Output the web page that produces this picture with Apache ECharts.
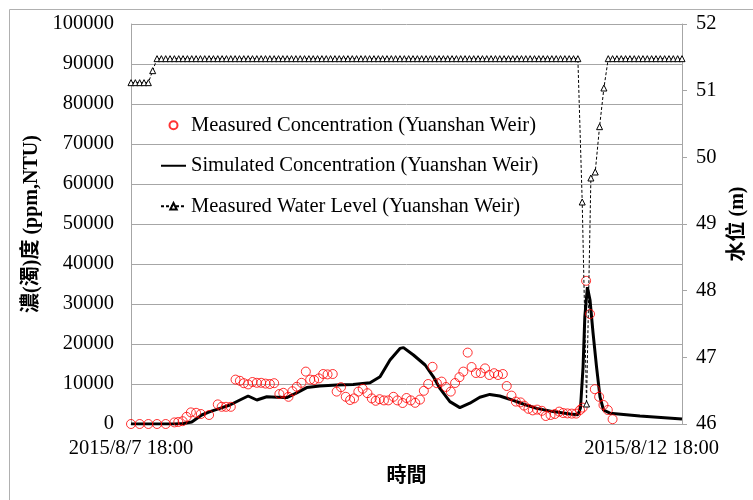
<!DOCTYPE html>
<html>
<head>
    <meta charset="utf-8" />
    <script src="https://cdn.jsdelivr.net/npm/echarts@6/dist/echarts.min.js"></script>
</head>
<body style="margin:0;background:#fff;">
<div id="main" style="width:753px;height:500px;"></div>
<script type="text/javascript">
    // hours counted from 2015/8/7 18:00
    var startLabel = '2015/8/7 18:00';
    var endLabel = '2015/8/12 18:00';
    var endLabelHour = 120;
    var lastHour = 127;

    // measured concentration (ppm,NTU)
    var measuredHours = [0, 2, 4, 6, 8, 10, 10.9, 11.9, 12.8, 13.8, 15, 16.1, 18, 20, 20.9, 21.9, 23,
        24.1, 25.1, 26, 27, 28, 29, 30, 31, 32, 33, 34.2, 35.1, 36.3, 37.2, 38.2, 39.3, 40.3, 41.3,
        42.2, 43.3, 44.3, 45.3, 46.5, 47.4, 48.4, 49.5, 50.5, 51.4, 52.4, 53.4, 54.5, 55.5, 56.4,
        57.3, 58.3, 59.3, 60.5, 61.4, 62.6, 63.5, 64.5, 65.5, 66.6, 67.5, 68.5, 69.5, 70.5, 71.6,
        72.6, 73.7, 74.7, 75.7, 76.6, 77.6, 78.5, 79.5, 80.6, 81.6, 82.6, 83.7, 84.6, 85.7, 86.6,
        87.7, 88.7, 89.8, 90.6, 91.6, 92.6, 93.6, 94.7, 95.6, 96.7, 97.7, 98.7, 99.6, 100.6, 101.6,
        102.6, 103.5, 104.1, 104.9, 105.8, 106.9, 107.9, 108.9, 109.9, 111];
    var measuredConc = [0, 0, 0, 0, 0, 400, 500, 700, 1800, 2900, 2800, 2500, 2250, 4900, 4300, 4300, 4300,
        11100, 10800, 10200, 9900, 10500, 10300, 10300, 10100, 10000, 10200, 7500, 7800, 6800, 8200, 9300, 10300, 13100, 11100,
        11000, 11400, 12500, 12400, 12500, 8100, 9200, 6800, 6000, 6400, 8100, 8800, 7700, 6400, 5800,
        6200, 5900, 5900, 6800, 5900, 5250, 6500, 5900, 5300, 6100, 8300, 10000, 14300, 10200, 10600,
        9250, 8100, 10250, 11700, 13100, 17850, 14250, 12750, 12750, 13900, 12250, 12700, 12250, 12500, 9500,
        7100, 5600, 5400, 4600, 3800, 3400, 3600, 3300, 2000, 2250, 2500, 3100, 2750, 2650, 2600,
        2600, 3500, 4100, 35800, 27500, 8700, 6800, 4750, 3500, 1200];

    // simulated concentration (ppm,NTU)
    var simHours = [0, 10.1, 12, 14, 16.3, 18.2, 20.5, 22.8, 25.1, 27, 29, 31.3, 33.6, 35.9, 38.2, 40.5,
        43.5, 47.4, 51.2, 55.1, 57.4, 59.7, 62, 62.8, 65.1, 67.8, 69.7, 71.2, 73.5, 75.8, 78.1, 80.4,
        82.7, 85, 87.3, 90.4, 93.5, 97.3, 101.2, 103, 103.6, 104.2, 104.6, 105.2, 105.8, 106.5, 107.3,
        108.1, 108.9, 110.4, 117.3, 127];
    var simConc = [0, 0, 100, 500, 2250, 3100, 3900, 4750, 6000, 7000, 6000, 6800, 6700, 6600, 7800, 9100,
        9500, 9750, 9900, 10300, 11800, 16000, 18900, 19100, 17250, 14750, 11800, 8900, 5600, 4100, 5200, 6700,
        7400, 7000, 6200, 5000, 3900, 3100, 2500, 2300, 4000, 14300, 26800, 34200, 31000, 22700, 14300,
        6800, 3500, 2700, 2000, 1250];

    // measured water level (m), one reading per hour from hour 0
    var levelValues = [
        51.12, 51.12, 51.12, 51.12, 51.12, 51.30,
        51.48, 51.48, 51.48, 51.48, 51.48, 51.48, 51.48, 51.48, 51.48, 51.48, 51.48, 51.48, 51.48, 51.48,
        51.48, 51.48, 51.48, 51.48, 51.48, 51.48, 51.48, 51.48, 51.48, 51.48, 51.48, 51.48, 51.48, 51.48,
        51.48, 51.48, 51.48, 51.48, 51.48, 51.48, 51.48, 51.48, 51.48, 51.48, 51.48, 51.48, 51.48, 51.48,
        51.48, 51.48, 51.48, 51.48, 51.48, 51.48, 51.48, 51.48, 51.48, 51.48, 51.48, 51.48, 51.48, 51.48,
        51.48, 51.48, 51.48, 51.48, 51.48, 51.48, 51.48, 51.48, 51.48, 51.48, 51.48, 51.48, 51.48, 51.48,
        51.48, 51.48, 51.48, 51.48, 51.48, 51.48, 51.48, 51.48, 51.48, 51.48, 51.48, 51.48, 51.48, 51.48,
        51.48, 51.48, 51.48, 51.48, 51.48, 51.48, 51.48, 51.48, 51.48, 51.48, 51.48, 51.48, 51.48, 51.48,
        49.33, 46.30, 49.69, 49.78, 50.46, 51.04,
        51.48, 51.48, 51.48, 51.48, 51.48, 51.48, 51.48, 51.48, 51.48, 51.48, 51.48, 51.48, 51.48, 51.48,
        51.48, 51.48, 51.48, 51.48];

    var serif = 'Liberation Serif, Noto Sans CJK TC, serif';
    var gridColor = '#a6a6a6';

    function pairs(xs, ys) {
        return xs.map(function (x, i) { return [x, ys[i]]; });
    }

    var myChart = echarts.init(document.getElementById('main'));
    var option = {
        animation: false,
        backgroundColor: '#fff',
        textStyle: { fontFamily: serif, color: '#000' },
        graphic: [{
            type: 'rect',
            shape: { x: 9.5, y: 9.5, width: 800, height: 600 },
            style: { fill: 'none', stroke: '#b0b0b0', lineWidth: 1 },
            silent: true
        }],
        grid: { left: 131, right: 71, top: 24, bottom: 76, outerBoundsMode: 'none' },
        legend: {
            orient: 'vertical',
            left: 160,
            top: 115,
            padding: 0,
            itemWidth: 25,
            itemHeight: 8,
            itemGap: 20,
            textStyle: { fontFamily: serif, fontSize: 20.5, color: '#000' },
            data: [
                'Measured Concentration (Yuanshan Weir)',
                { name: 'Simulated Concentration (Yuanshan Weir)', itemStyle: { opacity: 0 } },
                'Measured Water Level (Yuanshan Weir)'
            ]
        },
        xAxis: {
            type: 'value',
            min: 0,
            max: lastHour,
            interval: endLabelHour,
            name: '時間',
            nameLocation: 'middle',
            nameGap: 40,
            nameTextStyle: { fontFamily: 'Noto Sans CJK TC', fontWeight: 'bold', fontSize: 20, color: '#000' },
            axisLine: { lineStyle: { color: gridColor } },
            axisTick: { show: false },
            splitLine: { show: false },
            axisLabel: {
                margin: 14,
                fontFamily: serif,
                fontSize: 20.5,
                color: '#000',
                formatter: function (v) {
                    if (v === 0) return startLabel;
                    if (v === endLabelHour) return endLabel;
                    return '';
                }
            }
        },
        yAxis: [{
            type: 'value',
            min: 0,
            max: 100000,
            interval: 10000,
            name: '濃(濁)度 (ppm,NTU)',
            nameLocation: 'middle',
            nameGap: 84,
            nameTextStyle: { fontFamily: serif, fontWeight: 'bold', fontSize: 20, color: '#000' },
            axisLine: { show: true, lineStyle: { color: gridColor } },
            axisTick: { show: false },
            splitLine: { lineStyle: { color: gridColor } },
            axisLabel: {
                margin: 17, fontFamily: serif, fontSize: 20.5, color: '#000',
                formatter: function (v) { return String(v); }
            }
        }, {
            type: 'value',
            position: 'right',
            min: 46,
            max: 52,
            interval: 1,
            name: '水位 (m)',
            nameLocation: 'middle',
            nameRotate: 90,
            nameGap: 45,
            nameTextStyle: { fontFamily: serif, fontWeight: 'bold', fontSize: 20, color: '#000' },
            axisLine: { show: true, lineStyle: { color: gridColor } },
            axisTick: { show: true, length: 5, lineStyle: { color: gridColor } },
            splitLine: { show: false },
            axisLabel: { margin: 14, fontFamily: serif, fontSize: 20.5, color: '#000' }
        }],
        series: [{
            name: 'Measured Concentration (Yuanshan Weir)',
            type: 'scatter',
            symbol: 'circle',
            symbolSize: 9,
            itemStyle: { color: 'rgba(255,255,255,0)', borderColor: '#ff0000', borderWidth: 1 },
            data: pairs(measuredHours, measuredConc),
            z: 3
        }, {
            name: 'Simulated Concentration (Yuanshan Weir)',
            type: 'line',
            symbol: 'none',
            lineStyle: { color: '#000', width: 3 },
            itemStyle: { color: '#000' },
            data: pairs(simHours, simConc),
            z: 2
        }, {
            name: 'Measured Water Level (Yuanshan Weir)',
            type: 'line',
            yAxisIndex: 1,
            symbol: 'triangle',
            symbolSize: 6,
            showAllSymbol: true,
            itemStyle: { color: '#fff', borderColor: '#000', borderWidth: 1 },
            lineStyle: { color: '#000', width: 1, type: [3, 2] },
            data: levelValues.map(function (v, h) { return [h, v]; }),
            z: 4
        }]
    };
    myChart.setOption(option);
</script>
</body>
</html>
